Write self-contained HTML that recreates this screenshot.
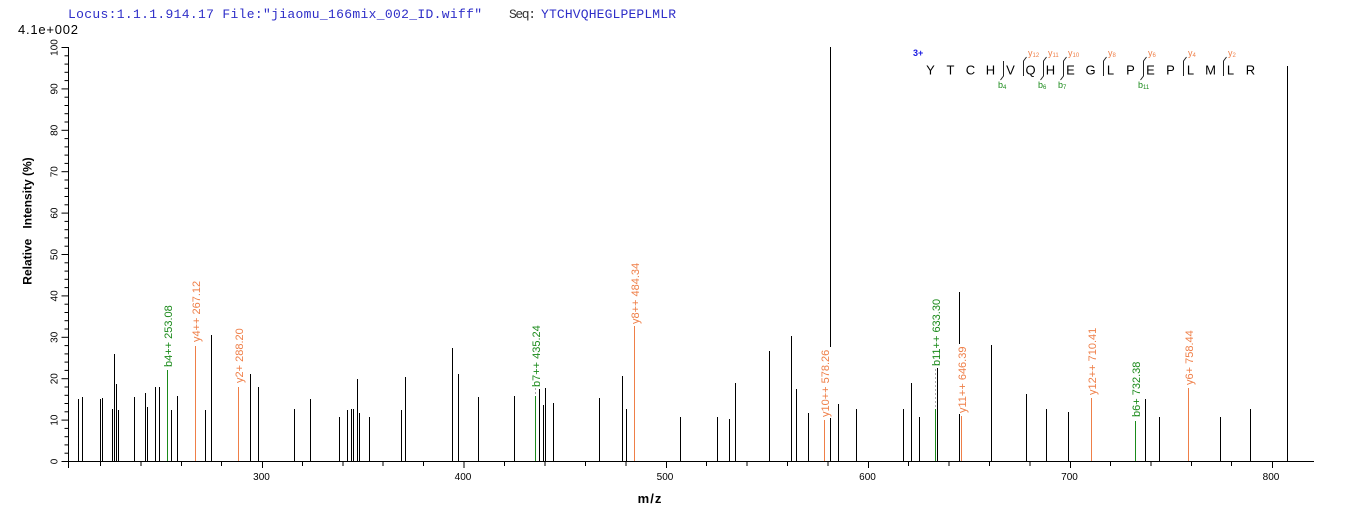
<!DOCTYPE html>
<html>
<head>
<meta charset="utf-8">
<style>
html,body{margin:0;padding:0;background:#fff;}
svg{display:block;}
text{font-family:"Liberation Sans",Arial,sans-serif;}
.mono{font-family:"Liberation Mono","Courier New",monospace;}
</style>
</head>
<body>
<svg width="1362" height="520" viewBox="0 0 1362 520" xmlns="http://www.w3.org/2000/svg">
<rect x="0" y="0" width="1362" height="520" fill="#fff"/>

<!-- header -->
<text class="mono" x="68" y="18" font-size="13" fill="#2e2ec8" textLength="414" lengthAdjust="spacing">Locus:1.1.1.914.17 File:"jiaomu_166mix_002_ID.wiff"</text>
<text class="mono" x="509" y="18" font-size="13" fill="#333" textLength="27" lengthAdjust="spacing">Seq:</text>
<text class="mono" x="541" y="18" font-size="13" fill="#2e2ec8" textLength="135" lengthAdjust="spacing">YTCHVQHEGLPEPLMLR</text>
<text x="18" y="34" font-size="13" fill="#000" textLength="60" lengthAdjust="spacing">4.1e+002</text>

<!-- axes -->
<g stroke="#000" stroke-width="1" fill="none">
<line x1="68.5" y1="47" x2="68.5" y2="468"/>
<line x1="63" y1="461.5" x2="1314" y2="461.5"/>
</g>

<!-- y ticks -->
<g stroke="#000" stroke-width="1">
<line x1="61.5" y1="461.5" x2="68" y2="461.5"/><line x1="64.5" y1="453.2" x2="68" y2="453.2"/><line x1="64.5" y1="444.9" x2="68" y2="444.9"/><line x1="64.5" y1="436.7" x2="68" y2="436.7"/><line x1="64.5" y1="428.4" x2="68" y2="428.4"/>
<line x1="61.5" y1="420.1" x2="68" y2="420.1"/><line x1="64.5" y1="411.8" x2="68" y2="411.8"/><line x1="64.5" y1="403.5" x2="68" y2="403.5"/><line x1="64.5" y1="395.3" x2="68" y2="395.3"/><line x1="64.5" y1="387" x2="68" y2="387"/>
<line x1="61.5" y1="378.7" x2="68" y2="378.7"/><line x1="64.5" y1="370.4" x2="68" y2="370.4"/><line x1="64.5" y1="362.1" x2="68" y2="362.1"/><line x1="64.5" y1="353.9" x2="68" y2="353.9"/><line x1="64.5" y1="345.6" x2="68" y2="345.6"/>
<line x1="61.5" y1="337.3" x2="68" y2="337.3"/><line x1="64.5" y1="329" x2="68" y2="329"/><line x1="64.5" y1="320.7" x2="68" y2="320.7"/><line x1="64.5" y1="312.5" x2="68" y2="312.5"/><line x1="64.5" y1="304.2" x2="68" y2="304.2"/>
<line x1="61.5" y1="295.9" x2="68" y2="295.9"/><line x1="64.5" y1="287.6" x2="68" y2="287.6"/><line x1="64.5" y1="279.3" x2="68" y2="279.3"/><line x1="64.5" y1="271.1" x2="68" y2="271.1"/><line x1="64.5" y1="262.8" x2="68" y2="262.8"/>
<line x1="61.5" y1="254.5" x2="68" y2="254.5"/><line x1="64.5" y1="246.2" x2="68" y2="246.2"/><line x1="64.5" y1="237.9" x2="68" y2="237.9"/><line x1="64.5" y1="229.7" x2="68" y2="229.7"/><line x1="64.5" y1="221.4" x2="68" y2="221.4"/>
<line x1="61.5" y1="213.1" x2="68" y2="213.1"/><line x1="64.5" y1="204.8" x2="68" y2="204.8"/><line x1="64.5" y1="196.5" x2="68" y2="196.5"/><line x1="64.5" y1="188.3" x2="68" y2="188.3"/><line x1="64.5" y1="180" x2="68" y2="180"/>
<line x1="61.5" y1="171.7" x2="68" y2="171.7"/><line x1="64.5" y1="163.4" x2="68" y2="163.4"/><line x1="64.5" y1="155.1" x2="68" y2="155.1"/><line x1="64.5" y1="146.9" x2="68" y2="146.9"/><line x1="64.5" y1="138.6" x2="68" y2="138.6"/>
<line x1="61.5" y1="130.3" x2="68" y2="130.3"/><line x1="64.5" y1="122" x2="68" y2="122"/><line x1="64.5" y1="113.7" x2="68" y2="113.7"/><line x1="64.5" y1="105.5" x2="68" y2="105.5"/><line x1="64.5" y1="97.2" x2="68" y2="97.2"/>
<line x1="61.5" y1="88.9" x2="68" y2="88.9"/><line x1="64.5" y1="80.6" x2="68" y2="80.6"/><line x1="64.5" y1="72.3" x2="68" y2="72.3"/><line x1="64.5" y1="64.1" x2="68" y2="64.1"/><line x1="64.5" y1="55.8" x2="68" y2="55.8"/>
<line x1="61.5" y1="47.5" x2="68" y2="47.5"/>
</g>
<g font-size="10" fill="#000" text-anchor="middle">
<text transform="translate(57.3,461.5) rotate(-90)">0</text>
<text transform="translate(57.3,420.1) rotate(-90)">10</text>
<text transform="translate(57.3,378.7) rotate(-90)">20</text>
<text transform="translate(57.3,337.3) rotate(-90)">30</text>
<text transform="translate(57.3,295.9) rotate(-90)">40</text>
<text transform="translate(57.3,254.5) rotate(-90)">50</text>
<text transform="translate(57.3,213.1) rotate(-90)">60</text>
<text transform="translate(57.3,171.7) rotate(-90)">70</text>
<text transform="translate(57.3,130.3) rotate(-90)">80</text>
<text transform="translate(57.3,88.9) rotate(-90)">90</text>
<text transform="translate(57.3,47.5) rotate(-90)">100</text>
</g>
<text transform="translate(31.5,221) rotate(-90)" font-size="12" font-weight="bold" text-anchor="middle" style="white-space:pre">Relative   Intensity (%)</text>

<!-- x ticks -->
<g stroke="#000" stroke-width="1">
<line x1="100.5" y1="461" x2="100.5" y2="466"/>
<line x1="141" y1="461" x2="141" y2="466"/>
<line x1="181.5" y1="461" x2="181.5" y2="466"/>
<line x1="221.5" y1="461" x2="221.5" y2="466"/>
<line x1="262.5" y1="461" x2="262.5" y2="468"/>
<line x1="302.5" y1="461" x2="302.5" y2="466"/>
<line x1="343" y1="461" x2="343" y2="466"/>
<line x1="383" y1="461" x2="383" y2="466"/>
<line x1="423.5" y1="461" x2="423.5" y2="466"/>
<line x1="464" y1="461" x2="464" y2="468"/>
<line x1="504.5" y1="461" x2="504.5" y2="466"/>
<line x1="545" y1="461" x2="545" y2="466"/>
<line x1="585.5" y1="461" x2="585.5" y2="466"/>
<line x1="626" y1="461" x2="626" y2="466"/>
<line x1="666.5" y1="461" x2="666.5" y2="468"/>
<line x1="706.5" y1="461" x2="706.5" y2="466"/>
<line x1="747" y1="461" x2="747" y2="466"/>
<line x1="787.5" y1="461" x2="787.5" y2="466"/>
<line x1="828" y1="461" x2="828" y2="466"/>
<line x1="868.5" y1="461" x2="868.5" y2="468"/>
<line x1="908.5" y1="461" x2="908.5" y2="466"/>
<line x1="949" y1="461" x2="949" y2="466"/>
<line x1="989.5" y1="461" x2="989.5" y2="466"/>
<line x1="1030" y1="461" x2="1030" y2="466"/>
<line x1="1070.5" y1="461" x2="1070.5" y2="468"/>
<line x1="1110.5" y1="461" x2="1110.5" y2="466"/>
<line x1="1151" y1="461" x2="1151" y2="466"/>
<line x1="1191.5" y1="461" x2="1191.5" y2="466"/>
<line x1="1231.5" y1="461" x2="1231.5" y2="466"/>
<line x1="1272.5" y1="461" x2="1272.5" y2="468"/>
</g>
<g font-size="10" fill="#000" text-anchor="middle">
<text x="261.5" y="480">300</text>
<text x="463" y="480">400</text>
<text x="665" y="480">500</text>
<text x="867.5" y="480">600</text>
<text x="1069.5" y="480">700</text>
<text x="1271" y="480">800</text>
</g>
<text x="650" y="503" font-size="13" font-weight="bold" text-anchor="middle" letter-spacing="1">m/z</text>

<!-- black peaks -->
<g stroke="#000" stroke-width="1">
<line x1="78.5" y1="399" x2="78.5" y2="461"/>
<line x1="82.5" y1="397" x2="82.5" y2="461"/>
<line x1="100.5" y1="399" x2="100.5" y2="461"/>
<line x1="102.5" y1="398" x2="102.5" y2="461"/>
<line x1="112.5" y1="409" x2="112.5" y2="461"/>
<line x1="114.5" y1="354" x2="114.5" y2="461"/>
<line x1="116.5" y1="384" x2="116.5" y2="461"/>
<line x1="118.5" y1="410" x2="118.5" y2="461"/>
<line x1="134.5" y1="397" x2="134.5" y2="461"/>
<line x1="145.5" y1="393" x2="145.5" y2="461"/>
<line x1="147.5" y1="407" x2="147.5" y2="461"/>
<line x1="155.5" y1="387" x2="155.5" y2="461"/>
<line x1="159.5" y1="387" x2="159.5" y2="461"/>
<line x1="171.5" y1="410" x2="171.5" y2="461"/>
<line x1="177.5" y1="396" x2="177.5" y2="461"/>
<line x1="205.5" y1="410" x2="205.5" y2="461"/>
<line x1="211.5" y1="335" x2="211.5" y2="461"/>
<line x1="250.5" y1="374" x2="250.5" y2="461"/>
<line x1="258.5" y1="387" x2="258.5" y2="461"/>
<line x1="294.5" y1="409" x2="294.5" y2="461"/>
<line x1="310.5" y1="399" x2="310.5" y2="461"/>
<line x1="339.5" y1="417" x2="339.5" y2="461"/>
<line x1="347.5" y1="410" x2="347.5" y2="461"/>
<line x1="351.5" y1="409" x2="351.5" y2="461"/>
<line x1="353.5" y1="409" x2="353.5" y2="461"/>
<line x1="357.5" y1="379" x2="357.5" y2="461"/>
<line x1="359.5" y1="413" x2="359.5" y2="461"/>
<line x1="369.5" y1="417" x2="369.5" y2="461"/>
<line x1="401.5" y1="410" x2="401.5" y2="461"/>
<line x1="405.5" y1="377" x2="405.5" y2="461"/>
<line x1="452.5" y1="348" x2="452.5" y2="461"/>
<line x1="458.5" y1="374" x2="458.5" y2="461"/>
<line x1="478.5" y1="397" x2="478.5" y2="461"/>
<line x1="514.5" y1="396" x2="514.5" y2="461"/>
<line x1="539.5" y1="389" x2="539.5" y2="461"/>
<line x1="543.5" y1="405" x2="543.5" y2="461"/>
<line x1="545.5" y1="388" x2="545.5" y2="461"/>
<line x1="553.5" y1="403" x2="553.5" y2="461"/>
<line x1="599.5" y1="398" x2="599.5" y2="461"/>
<line x1="622.5" y1="376" x2="622.5" y2="461"/>
<line x1="626.5" y1="409" x2="626.5" y2="461"/>
<line x1="680.5" y1="417" x2="680.5" y2="461"/>
<line x1="717.5" y1="417" x2="717.5" y2="461"/>
<line x1="729.5" y1="419" x2="729.5" y2="461"/>
<line x1="735.5" y1="383" x2="735.5" y2="461"/>
<line x1="769.5" y1="351" x2="769.5" y2="461"/>
<line x1="791.5" y1="336" x2="791.5" y2="461"/>
<line x1="796.5" y1="389" x2="796.5" y2="461"/>
<line x1="808.5" y1="413" x2="808.5" y2="461"/>
<line x1="830.5" y1="47" x2="830.5" y2="461"/>
<line x1="838.5" y1="404" x2="838.5" y2="461"/>
<line x1="856.5" y1="409" x2="856.5" y2="461"/>
<line x1="903.5" y1="409" x2="903.5" y2="461"/>
<line x1="911.5" y1="383" x2="911.5" y2="461"/>
<line x1="919.5" y1="417" x2="919.5" y2="461"/>
<line x1="937.5" y1="368" x2="937.5" y2="461"/>
<line x1="959.5" y1="292" x2="959.5" y2="461"/>
<line x1="991.5" y1="345" x2="991.5" y2="461"/>
<line x1="1026.5" y1="394" x2="1026.5" y2="461"/>
<line x1="1046.5" y1="409" x2="1046.5" y2="461"/>
<line x1="1068.5" y1="412" x2="1068.5" y2="461"/>
<line x1="1145.5" y1="399" x2="1145.5" y2="461"/>
<line x1="1159.5" y1="417" x2="1159.5" y2="461"/>
<line x1="1220.5" y1="417" x2="1220.5" y2="461"/>
<line x1="1250.5" y1="409" x2="1250.5" y2="461"/>
<line x1="1287.5" y1="66" x2="1287.5" y2="461"/>
</g>

<!-- dashed connectors -->
<g stroke="#aaa" stroke-width="1" stroke-dasharray="2,2">
<line x1="935.5" y1="369" x2="935.5" y2="409"/>
<line x1="535.5" y1="388" x2="535.5" y2="396"/>
</g>

<!-- label backgrounds -->
<rect x="821" y="347" width="11" height="71" fill="#fff"/>
<rect x="958" y="344" width="11" height="70" fill="#fff"/>

<!-- colored peaks -->
<g stroke="#1a8a1a" stroke-width="1">
<line x1="167.5" y1="370" x2="167.5" y2="461"/>
<line x1="535.5" y1="396" x2="535.5" y2="461"/>
<line x1="935.5" y1="409" x2="935.5" y2="461"/>
<line x1="1135.5" y1="421" x2="1135.5" y2="461"/>
</g>
<g stroke="#ef7f48" stroke-width="1">
<line x1="195.5" y1="346" x2="195.5" y2="461"/>
<line x1="238.5" y1="387" x2="238.5" y2="461"/>
<line x1="634.5" y1="326" x2="634.5" y2="461"/>
<line x1="824.5" y1="420" x2="824.5" y2="461"/>
<line x1="961.5" y1="416" x2="961.5" y2="461"/>
<line x1="1091.5" y1="398" x2="1091.5" y2="461"/>
<line x1="1188.5" y1="388" x2="1188.5" y2="461"/>
</g>

<!-- peak labels -->
<g font-size="11" fill="#1a8a1a">
<text transform="translate(172,367) rotate(-90)">b4++ 253.08</text>
<text transform="translate(540,387) rotate(-90)">b7++ 435.24</text>
<text transform="translate(940,366) rotate(-90)">b11++ 633.30</text>
<text transform="translate(1140,417) rotate(-90)">b6+ 732.38</text>
</g>
<g font-size="11" fill="#ef7f48">
<text transform="translate(200,342) rotate(-90)">y4++ 267.12</text>
<text transform="translate(243,383) rotate(-90)">y2+ 288.20</text>
<text transform="translate(639,324) rotate(-90)">y8++ 484.34</text>
<text transform="translate(829,417) rotate(-90)">y10++ 578.26</text>
<text transform="translate(966,413) rotate(-90)">y11++ 646.39</text>
<text transform="translate(1096,395) rotate(-90)">y12++ 710.41</text>
<text transform="translate(1193,385) rotate(-90)">y6+ 758.44</text>
</g>

<!-- sequence annotation -->
<text x="913" y="56" font-size="9" font-weight="bold" fill="#1a1ae0">3+</text>
<g font-size="13" fill="#000" text-anchor="middle">
<text x="930.5" y="74.5">Y</text>
<text x="950.5" y="74.5">T</text>
<text x="970.5" y="74.5">C</text>
<text x="990.5" y="74.5">H</text>
<text x="1010.5" y="74.5">V</text>
<text x="1030.5" y="74.5">Q</text>
<text x="1050.5" y="74.5">H</text>
<text x="1070.5" y="74.5">E</text>
<text x="1090.5" y="74.5">G</text>
<text x="1110.5" y="74.5">L</text>
<text x="1130.5" y="74.5">P</text>
<text x="1150.5" y="74.5">E</text>
<text x="1170.5" y="74.5">P</text>
<text x="1190.5" y="74.5">L</text>
<text x="1210.5" y="74.5">M</text>
<text x="1230.5" y="74.5">L</text>
<text x="1250.5" y="74.5">R</text>
</g>
<g stroke="#222" stroke-width="1" fill="none">
<polyline points="1003.5,61 1003.5,76 1000.5,80"/>
<polyline points="1026.5,57 1023.5,61 1023.5,76"/>
<polyline points="1046.5,57 1043.5,61 1043.5,76 1040.5,80"/>
<polyline points="1066.5,57 1063.5,61 1063.5,76 1060.5,80"/>
<polyline points="1106.5,57 1103.5,61 1103.5,76"/>
<polyline points="1146.5,57 1143.5,61 1143.5,76 1140.5,80"/>
<polyline points="1186.5,57 1183.5,61 1183.5,76"/>
<polyline points="1226.5,57 1223.5,61 1223.5,76"/>
</g>
<g fill="#ef7f48" font-size="9">
<text x="1028" y="56">y<tspan font-size="6" dy="1">12</tspan></text>
<text x="1048" y="56">y<tspan font-size="6" dy="1">11</tspan></text>
<text x="1068" y="56">y<tspan font-size="6" dy="1">10</tspan></text>
<text x="1108" y="56">y<tspan font-size="6" dy="1">8</tspan></text>
<text x="1148" y="56">y<tspan font-size="6" dy="1">6</tspan></text>
<text x="1188" y="56">y<tspan font-size="6" dy="1">4</tspan></text>
<text x="1228" y="56">y<tspan font-size="6" dy="1">2</tspan></text>
</g>
<g fill="#1a8a1a" font-size="9">
<text x="998" y="88">b<tspan font-size="6" dy="1">4</tspan></text>
<text x="1038" y="88">b<tspan font-size="6" dy="1">6</tspan></text>
<text x="1058" y="88">b<tspan font-size="6" dy="1">7</tspan></text>
<text x="1138" y="88">b<tspan font-size="6" dy="1">11</tspan></text>
</g>
</svg>
</body>
</html>
